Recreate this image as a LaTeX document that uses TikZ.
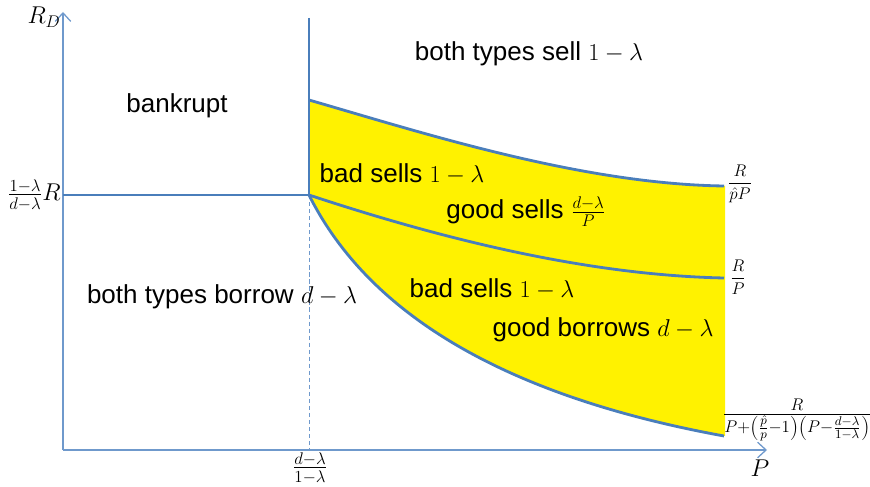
\documentclass[tikz,border=0pt]{standalone}
\usepackage{amsmath}
\usepackage[no-math]{fontspec}
\setmainfont{Liberation Sans}
\usetikzlibrary{arrows.meta}
\definecolor{lineblue}{HTML}{4A7EBB}
\definecolor{axisblue}{HTML}{6F99CC}
\definecolor{regionyellow}{HTML}{FFF200}
\tikzset{
  bound/.style={lineblue,line width=2pt},
  axis/.style={axisblue,line width=0.9pt,-{Straight Barb[length=6pt,width=11pt]}},
  region/.style={font=\fontsize{18.5}{22}\selectfont,inner sep=0pt},
  endlabel/.style={font=\fontsize{13}{15}\selectfont,inner sep=0pt},
}

\begin{document}
\begin{tikzpicture}[x=0.025cm,y=0.025cm]
  \useasboundingbox (0,0) rectangle (870,487);
  % kink and curve ends
  \coordinate (K) at (309,292);
  \coordinate (T0) at (309,387);
  \coordinate (T1) at (724,301);
  \coordinate (M1) at (724,209);
  \coordinate (B1) at (724,51);
  % yellow region between top and bottom curves
  \fill[regionyellow] (T0) .. controls (420,355) and (580,303) .. (T1)
    -- (725,301) -- (725,51) -- (B1)
    .. controls (510,90) and (370,170) .. (K) -- cycle;
  % axes
  \coordinate (O) at (63,37);
  \coordinate (ytop) at (63,475);
  \coordinate (xend) at (767,37);
  \draw[axis] (O) -- (ytop);
  \draw[axis] (O) -- (xend);
  % boundaries
  \coordinate (L) at (63,292);
  \coordinate (Vtop) at (309,469);
  \coordinate (Kfoot) at (309,37);
  \draw[axisblue,dashed,line width=0.6pt,dash pattern=on 3pt off 2pt] (K) -- (Kfoot);
  \draw[bound] (L) -- (K);
  \draw[bound] (Vtop) -- (K);
  \draw[bound] (T0) .. controls (420,355) and (580,303) .. (T1);
  \draw[bound] (K) .. controls (430,252) and (580,212) .. (M1);
  \draw[bound] (K) .. controls (370,170) and (510,90) .. (B1);
  % axis labels
  \node[region] (yname) at (44,470) {$R_D$};
  \node[region] (xname) at (760,19) {$P$};
  \node[region,anchor=east] (Rbar) at (61,292) {$\frac{1-\lambda}{d-\lambda}R$};
  \node[region] (Pbar) at (310,19) {$\frac{d-\lambda}{1-\lambda}$};
  % curve labels
  \node[endlabel] (ltop) at (740,303) {$\dfrac{R}{\hat{p}P}$};
  \node[endlabel] (lmid) at (738,210) {$\dfrac{R}{P}$};
  \node[region] (lbot) at (797,67) {$\frac{R}{P+\left(\frac{\hat{p}}{p}-1\right)\left(P-\frac{d-\lambda}{1-\lambda}\right)}$};
  % region labels
  \node[region] (bankrupt) at (177,381) {bankrupt};
  \node[region] (bothsell) at (529,433) {both types sell $1-\lambda$};
  \node[region] (badsellA) at (402,313) {bad sells $1-\lambda$};
  \node[region] (goodsell) at (526,275) {good sells $\frac{d-\lambda}{P}$};
  \node[region] (bothborrow) at (222,190) {both types borrow $d-\lambda$};
  \node[region] (badsellB) at (492,198) {bad sells $1-\lambda$};
  \node[region] (goodborrow) at (603,157) {good borrows $d-\lambda$};
\end{tikzpicture}
\end{document}
